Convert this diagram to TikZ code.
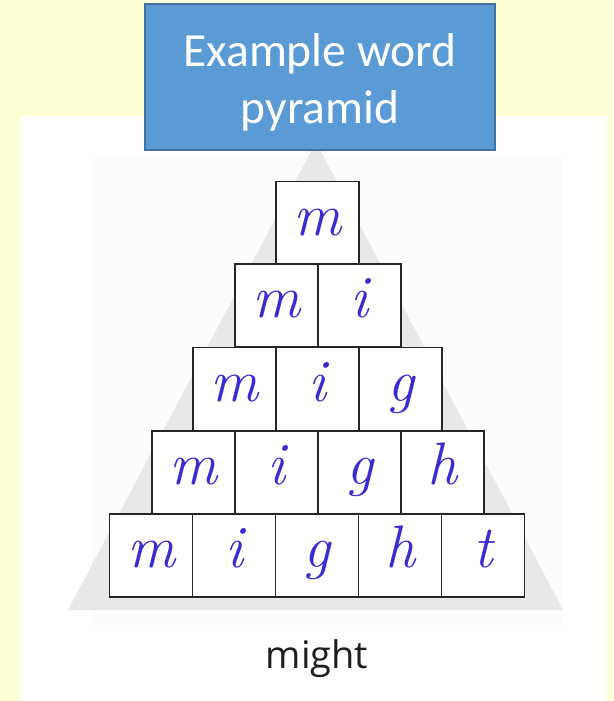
\documentclass[tikz,border=0pt]{standalone}
\usepackage{fontspec}
\newfontfamily\carlito{Carlito}
\newfontfamily\opensans{Open Sans}
\definecolor{bgyellow}{HTML}{FFFFD6}
\definecolor{faintgray}{HTML}{FCFCFC}
\definecolor{trigray}{HTML}{E8E8E8}
\definecolor{titleblue}{HTML}{5B9BD5}
\definecolor{titleedge}{HTML}{41719C}
\definecolor{letterblue}{HTML}{3A2CD2}
\definecolor{wordgray}{HTML}{1E1E1E}
\tikzset{
  titlebox/.style={draw=titleedge, line width=1.8pt, fill=titleblue,
    minimum width=350pt, minimum height=146pt, inner sep=0pt},
  titletext/.style={text=white, align=center, inner sep=0pt,
    font=\carlito\fontsize{47.5}{57}\selectfont},
  cell/.style={draw=black!85, line width=1.7pt, fill=white,
    minimum size=83pt, inner sep=0pt, text height=24pt, text depth=0pt,
    text=letterblue, font=\fontsize{60}{60}\selectfont\itshape},
  wordlabel/.style={text=wordgray, inner sep=0pt,
    font=\opensans\fontsize{38}{40}\selectfont}
}
\begin{document}
\begin{tikzpicture}[x=1pt,y=-1pt]
\useasboundingbox (0,0) rectangle (613,701);
\fill[bgyellow] (0,0) rectangle (613,701);
\fill[white] (21,116) rectangle (607,701);
\fill[faintgray] (92,157) rectangle (562,625);
\fill[trigray] (316,142) -- (68,610) -- (563,610) -- cycle;
% title
\node[titlebox] (title) at (320,77) {};
\node[titletext] (titletxt) at (320,82) {Example word\\pyramid};
% pyramid cells
\node[cell] (r1c1) at (317.5,223) {m};
\node[cell] (r2c1) at (276.5,305.5) {m};
\node[cell] (r2c2) at (359.5,305.5) {i};
\node[cell] (r3c1) at (234.5,389) {m};
\node[cell] (r3c2) at (317.5,389) {i};
\node[cell] (r3c3) at (400.5,389) {g};
\node[cell] (r4c1) at (193.5,472.5) {m};
\node[cell] (r4c2) at (276.5,472.5) {i};
\node[cell] (r4c3) at (359.5,472.5) {g};
\node[cell] (r4c4) at (442.5,472.5) {h};
\node[cell] (r5c1) at (151,555.5) {m};
\node[cell] (r5c2) at (234,555.5) {i};
\node[cell] (r5c3) at (317,555.5) {g};
\node[cell] (r5c4) at (400,555.5) {h};
\node[cell] (r5c5) at (483,555.5) {t};
% word
\node[wordlabel, anchor=base] (word) at (317,668) {might};
\end{tikzpicture}
\end{document}
